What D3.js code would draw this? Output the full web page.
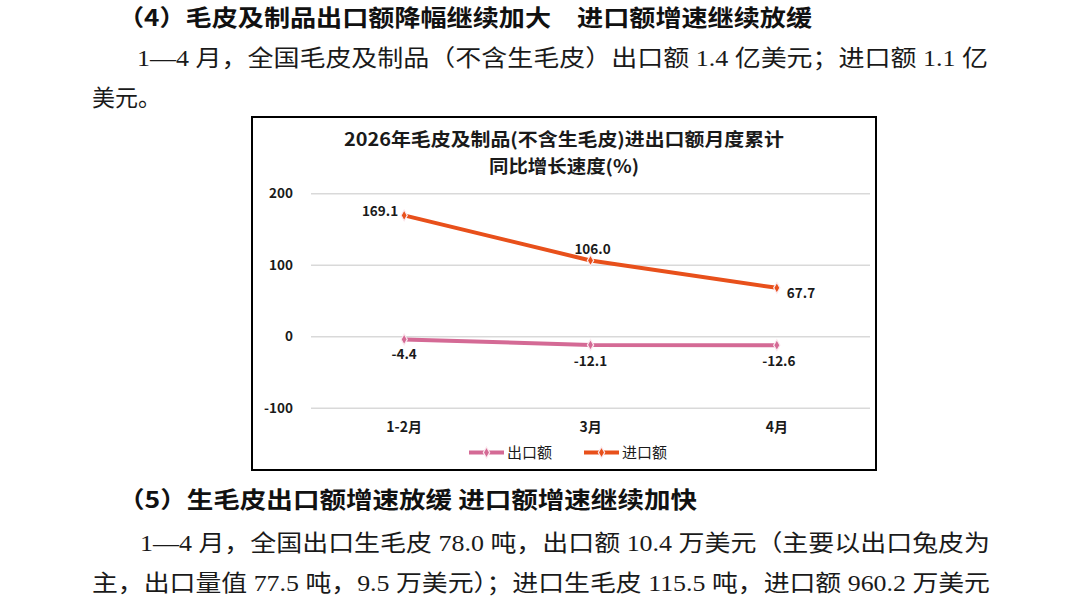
<!DOCTYPE html>
<html>
<head>
<meta charset="utf-8">
<script src="https://cdn.jsdelivr.net/npm/d3@7"></script>
<style>
  html, body { margin: 0; padding: 0; background: #fff; }
</style>
</head>
<body>
<div id="page"></div>
<script>
// chart values
var categories = ['1-2月', '3月', '4月']
var exportGrowth = [-4.4, -12.1, -12.6]
var importGrowth = [169.1, 106.0, 67.7]
var yTicks = [-100, 0, 100, 200]
var seriesNames = ['出口额', '进口额']
var chartTitle = ['2026年毛皮及制品(不含生毛皮)进出口额月度累计', '同比增长速度(%)']

// document text around the chart
var headings = [
  '（4）毛皮及制品出口额降幅继续加大　进口额增速继续放缓',
  '（5）生毛皮出口额增速放缓 进口额增速继续加快'
]
var paragraphLines = [
  '1—4 月，全国毛皮及制品（不含生毛皮）出口额 1.4 亿美元；进口额 1.1 亿',
  '美元。',
  '1—4 月，全国出口生毛皮 78.0 吨，出口额 10.4 万美元（主要以出口兔皮为',
  '主，出口量值 77.5 吨，9.5 万美元）；进口生毛皮 115.5 吨，进口额 960.2 万美元'
]

var W = 1084, H = 597
var svg = d3.select('#page').append('svg')
  .attr('width', W)
  .attr('height', H)
  .style('display', 'block')

var bodyFont = '"Liberation Serif", "Noto Sans CJK SC", serif'
var headFont = '"Noto Sans CJK SC", sans-serif'
var chartFont = '"Noto Sans CJK SC", "Noto Sans", sans-serif'

// plain hyphen for negatives, like the original
var loc = d3.formatLocale({decimal: '.', thousands: ',', grouping: [3], currency: ['', ''], minus: '-'})
var fmt1 = loc.format('.1f')
var fmt0 = loc.format('d')

//Headings
var headLayout = [
  {x: 118, y: 18, len: 694},
  {x: 118, y: 500, len: 579}
]
headings.forEach(function(t, i) {
  svg.append('text')
    .text(t)
    .attr('x', headLayout[i].x)
    .attr('y', headLayout[i].y)
    .attr('dy', '0.36em')
    .attr('textLength', headLayout[i].len)
    .attr('lengthAdjust', 'spacingAndGlyphs')
    .attr('font-family', headFont)
    .attr('font-weight', 700)
    .attr('font-size', 23)
    .attr('fill', '#111')
})

//Paragraph lines
var lineLayout = [
  {x: 137, y: 58, len: 851},
  {x: 92, y: 98, len: 0},
  {x: 140, y: 543, len: 850},
  {x: 92, y: 583, len: 898}
]
paragraphLines.forEach(function(t, i) {
  var tx = svg.append('text')
    .text(t)
    .attr('x', lineLayout[i].x)
    .attr('y', lineLayout[i].y)
    .attr('dy', '0.36em')
    .attr('font-family', bodyFont)
    .attr('font-size', 23)
    .attr('fill', '#1a1a1a')
  if (lineLayout[i].len) {
    tx.attr('textLength', lineLayout[i].len)
      .attr('lengthAdjust', 'spacingAndGlyphs')
  }
})

//Chart box
var box = {x: 252, y: 117, w: 624, h: 353}
svg.append('rect')
  .attr('x', box.x)
  .attr('y', box.y)
  .attr('width', box.w)
  .attr('height', box.h)
  .attr('fill', '#fff')
  .attr('stroke', '#000')
  .attr('stroke-width', 2)

var chart = svg.append('g')

// title
var titleLen = [440, 150]
chartTitle.forEach(function(t, i) {
  chart.append('text')
    .text(t)
    .attr('x', box.x + box.w / 2)
    .attr('y', 140 + i * 27)
    .attr('dy', '0.36em')
    .attr('text-anchor', 'middle')
    .attr('textLength', titleLen[i])
    .attr('lengthAdjust', 'spacingAndGlyphs')
    .attr('font-family', chartFont)
    .attr('font-weight', 700)
    .attr('font-size', 18)
    .attr('fill', '#1a1a1a')
})

// scales
var x = d3.scaleBand()
  .domain(categories)
  .range([311, 870])

var y = d3.scaleLinear()
  .domain([-100, 200])
  .range([407.7, 193.3])

var cx = function(d, i) { return x(categories[i]) + x.bandwidth() / 2 }

// gridlines + y labels
var yAxis = d3.axisLeft(y)
  .tickValues(yTicks)
  .tickSize(-(870 - 311))
  .tickPadding(18)
  .tickFormat(fmt0)

var yg = chart.append('g')
  .attr('transform', 'translate(311,0)')
  .call(yAxis)
yg.select('.domain').remove()
yg.selectAll('.tick line')
  .attr('stroke', '#d9d9d9')
  .attr('stroke-width', 1.5)
yg.selectAll('.tick text')
  .attr('font-family', chartFont)
  .attr('font-weight', 700)
  .attr('font-size', 13.5)
  .attr('fill', '#1a1a1a')

// x labels
var xAxis = d3.axisBottom(x).tickSize(0).tickPadding(0)
var xg = chart.append('g')
  .attr('transform', 'translate(0,427)')
  .call(xAxis)
xg.select('.domain').remove()
xg.selectAll('.tick text')
  .attr('dy', '0.36em')
  .attr('font-family', chartFont)
  .attr('font-weight', 700)
  .attr('font-size', 14)
  .attr('fill', '#1a1a1a')

// series
var colors = ['#D46A95', '#E8501B']
var series = [exportGrowth, importGrowth]

var line = d3.line()
  .x(cx)
  .y(function(d) { return y(d) })

var diamond = d3.symbol().type(d3.symbolDiamond).size(34)

series.forEach(function(vals, s) {
  chart.append('path')
    .datum(vals)
    .attr('d', line)
    .attr('fill', 'none')
    .attr('stroke', colors[s])
    .attr('stroke-width', 4)
    .attr('stroke-linejoin', 'round')

  chart.selectAll('.marker' + s)
    .data(vals)
    .enter().append('path')
    .attr('class', 'marker' + s)
    .attr('d', diamond)
    .attr('transform', function(d, i) { return 'translate(' + cx(d, i) + ',' + y(d) + ')' })
    .attr('fill', colors[s])
    .attr('stroke', '#fbe9ef')
    .attr('stroke-width', 1.2)
})

// data labels (offset from marker, per point)
var exportLabelOff = [[0, 15], [0, 16], [2, 16]]
var importLabelOff = [[-6, -4, 'end'], [2, -11, 'middle'], [10, 5, 'start']]

chart.selectAll('.lab0')
  .data(exportGrowth)
  .enter().append('text')
  .attr('class', 'lab0')
  .text(fmt1)
  .attr('x', function(d, i) { return cx(d, i) + exportLabelOff[i][0] })
  .attr('y', function(d, i) { return y(d) + exportLabelOff[i][1] })
  .attr('dy', '0.36em')
  .attr('text-anchor', 'middle')
  .attr('font-family', chartFont)
  .attr('font-weight', 700)
  .attr('font-size', 13.5)
  .attr('fill', '#1a1a1a')

chart.selectAll('.lab1')
  .data(importGrowth)
  .enter().append('text')
  .attr('class', 'lab1')
  .text(fmt1)
  .attr('x', function(d, i) { return cx(d, i) + importLabelOff[i][0] })
  .attr('y', function(d, i) { return y(d) + importLabelOff[i][1] })
  .attr('dy', '0.36em')
  .attr('text-anchor', function(d, i) { return importLabelOff[i][2] })
  .attr('font-family', chartFont)
  .attr('font-weight', 700)
  .attr('font-size', 13.5)
  .attr('fill', '#1a1a1a')

// legend
var legendX = [469, 584]
var legendY = 452.5
seriesNames.forEach(function(name, s) {
  var lg = chart.append('g')
    .attr('transform', 'translate(' + legendX[s] + ',' + legendY + ')')
  lg.append('line')
    .attr('x1', 0).attr('x2', 35)
    .attr('y1', 0).attr('y2', 0)
    .attr('stroke', colors[s])
    .attr('stroke-width', 4)
  lg.append('path')
    .attr('d', diamond)
    .attr('transform', 'translate(17.5,0)')
    .attr('fill', colors[s])
    .attr('stroke', '#fbe9ef')
    .attr('stroke-width', 1.2)
  lg.append('text')
    .text(name)
    .attr('x', 38)
    .attr('y', 0)
    .attr('dy', '0.36em')
    .attr('font-family', chartFont)
    .attr('font-size', 15)
    .attr('fill', '#1a1a1a')
})
</script>
</body>
</html>
